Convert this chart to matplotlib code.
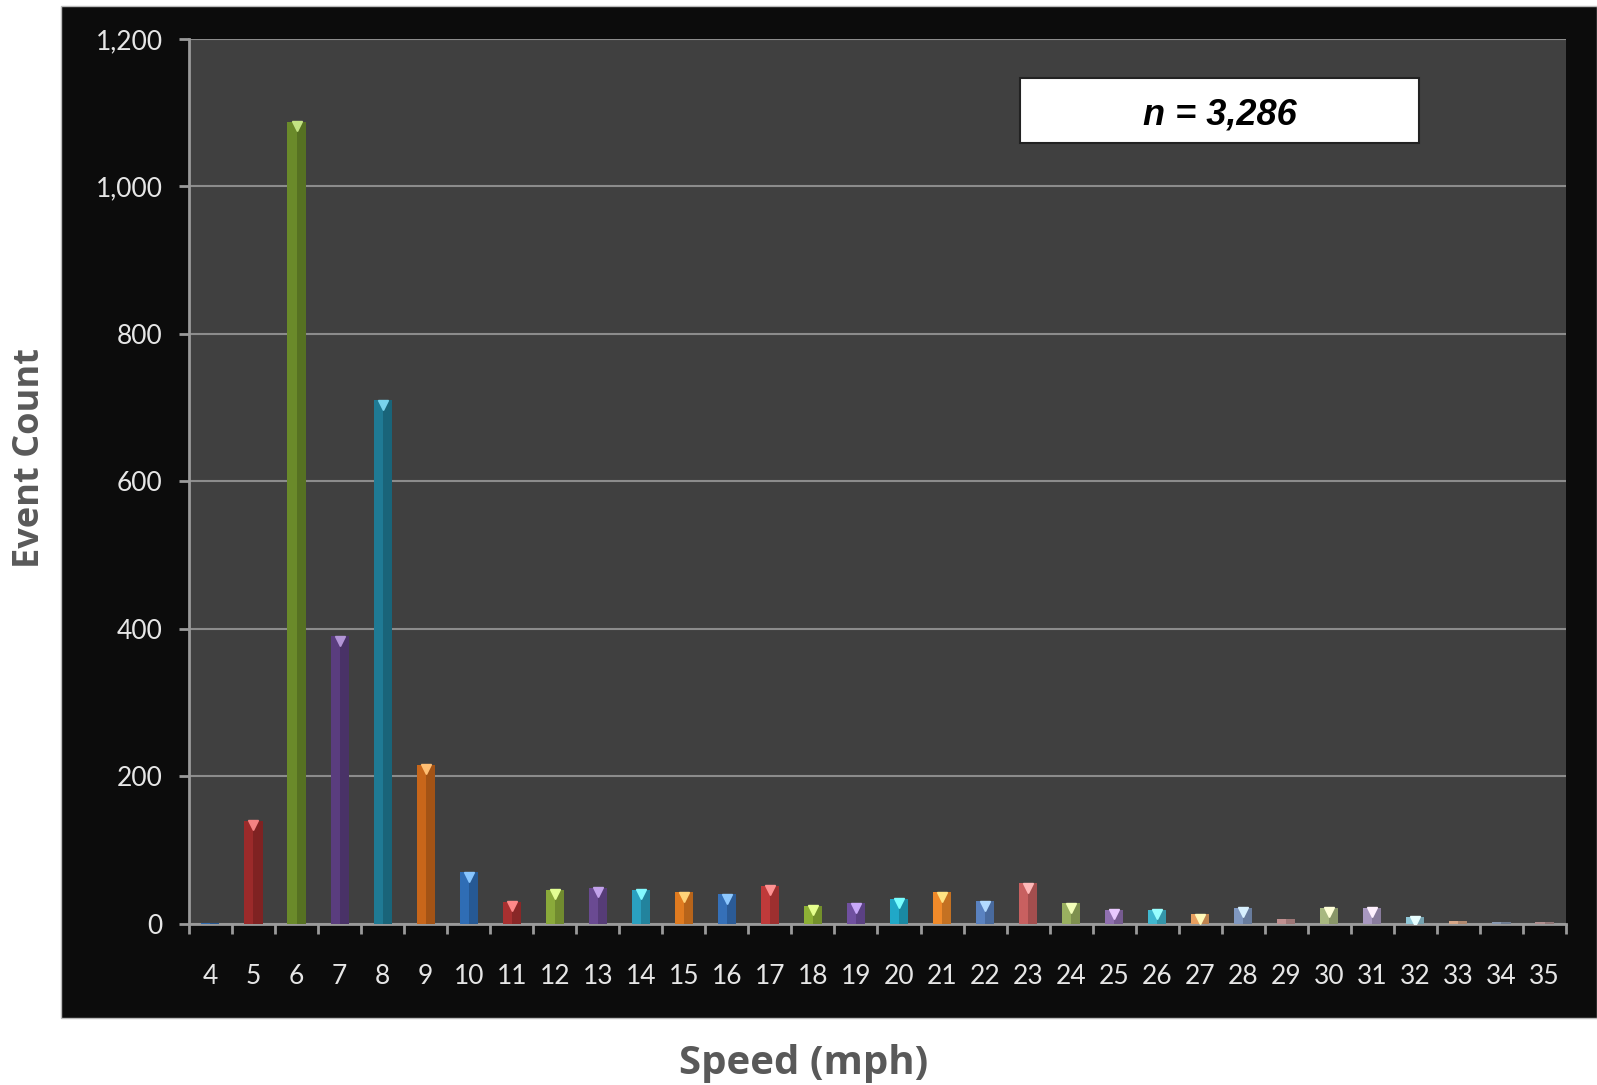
import matplotlib.pyplot as plt
from matplotlib.patches import Rectangle
from matplotlib.colors import to_rgb
from matplotlib.ticker import FuncFormatter
import numpy as np

speeds = list(range(4, 36))
counts = [2, 140, 1088, 390, 710, 216, 70, 30, 46, 49, 46, 43, 40, 52, 25, 28,
          34, 43, 31, 55, 28, 19, 19, 13, 22, 7, 22, 22, 10, 4, 3, 3]
bar_colors = ['#2f6bb0', '#9b2a2a', '#6a8a2a', '#5a3d7e', '#1f7a94', '#c8661a',
              '#2f6db5', '#a83030', '#8aaa3a', '#6a4a92', '#2aa0c0', '#e07b20',
              '#3570b8', '#c03a3a', '#8db035', '#7050a0', '#20a8c8', '#f08a2a',
              '#5a82c0', '#c86060', '#9ab060', '#9070b0', '#40b8d0', '#e8a060',
              '#8098c0', '#c09090', '#a8b880', '#a898c0', '#90c8d8', '#d8a888',
              '#8898b0', '#b09090']
y_ticks = [0, 200, 400, 600, 800, 1000, 1200]
n_total = 3286

plt.rcParams['font.family'] = ['Lato', 'DejaVu Sans']

fig = plt.figure(figsize=(15.97, 10.85), dpi=100)
fig.patch.set_facecolor('white')

# black chart panel behind the axes
fig.patches.append(Rectangle((0.0382, 0.0618), 0.9618, 0.9327, transform=fig.transFigure,
                             facecolor='#0c0c0c', edgecolor='#bbbbbb', linewidth=1, zorder=-5))

ax = fig.add_axes([0.1183, 0.1484, 0.8623, 0.8157])
ax.set_zorder(2)
ax.set_facecolor('#404040')

x = np.arange(len(speeds))
ax.bar(x, counts, width=0.42, color=bar_colors, edgecolor='none', zorder=3)
# darker shade on right half of each bar for a rounded look
ax.bar(x + 0.105, counts, width=0.21, color='black', alpha=0.18, zorder=4)
# light triangle highlight at the top
light = [tuple(min(1, c + 0.35) for c in to_rgb(col)) for col in bar_colors]
for xi, yi, lc in zip(x, counts, light):
    if yi >= 10:
        ax.plot(xi, yi - 6, marker='v', markersize=7, color=lc, zorder=5)

ax.set_xlim(-0.5, len(speeds) - 0.5)
ax.set_ylim(0, 1200)
ax.set_yticks(y_ticks)
ax.yaxis.set_major_formatter(FuncFormatter(lambda v, p: f'{int(v):,}'))
ax.set_xticks(x)
ax.set_xticklabels([str(s) for s in speeds])
ax.set_xticks(np.arange(-0.5, len(speeds)), minor=True)

ax.grid(axis='y', color='#8c8c8c', linewidth=1.5, zorder=1)
ax.set_axisbelow(True)

for side in ['top', 'right']:
    ax.spines[side].set_visible(False)
for side in ['left', 'bottom']:
    ax.spines[side].set_color('#9a9a9a')
    ax.spines[side].set_linewidth(2)

ax.tick_params(axis='y', which='major', length=7, width=2, color='#9a9a9a',
               labelcolor='#e6e6e6', labelsize=19, pad=12)
ax.tick_params(axis='x', which='major', length=0, labelcolor='#e6e6e6', labelsize=19, pad=29)
ax.tick_params(axis='x', which='minor', length=7, width=2, color='#9a9a9a')

# n label box
ax.add_patch(Rectangle((0.6035, 0.8825), 0.2898, 0.0734, transform=ax.transAxes,
                       facecolor='white', edgecolor='#222222', linewidth=1.5, zorder=6))
ax.text(0.7484, 0.914, f'n = {n_total:,}', transform=ax.transAxes,
        ha='center', va='center', fontsize=26, fontweight='bold', fontstyle='italic',
        family='Liberation Sans', color='black', zorder=7)

fig.text(0.503, 0.020, 'Speed (mph)', ha='center', va='center', fontsize=29,
         fontweight='bold', color='#595959', family=['Open Sans', 'DejaVu Sans'])
fig.text(0.019, 0.578, 'Event Count', ha='center', va='center', rotation=90, fontsize=26,
         fontweight='bold', color='#595959', family=['Open Sans', 'DejaVu Sans'])

fig.savefig('out.png', dpi=100)
